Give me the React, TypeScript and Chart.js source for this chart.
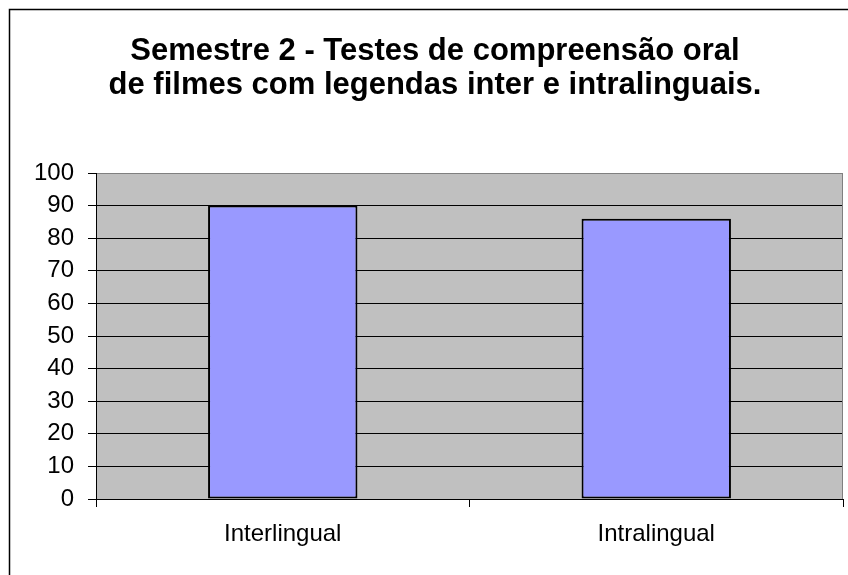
import React, { useEffect, useRef } from "react";
import { Chart, registerables } from "chart.js";

Chart.register(...registerables);

const titleLines = [
  "Semestre 2 - Testes de compreensão oral",
  "de filmes com legendas inter e intralinguais.",
];
const categories = ["Interlingual", "Intralingual"];
const scores = [90, 86];
const yMin = 0;
const yMax = 100;
const yStep = 10;

const W = 848;
const H = 575;

const framePlugin = {
  id: "frameAndPlot",
  beforeDraw(chart: any) {
    const { ctx, chartArea } = chart;
    ctx.save();
    ctx.fillStyle = "#ffffff";
    ctx.fillRect(0, 0, chart.width, chart.height);
    // outer chart frame (left and top edges visible)
    ctx.strokeStyle = "#000000";
    ctx.lineWidth = 1.5;
    ctx.beginPath();
    ctx.moveTo(9.5, chart.height);
    ctx.lineTo(9.5, 9.5);
    ctx.lineTo(chart.width, 9.5);
    ctx.stroke();
    // plot area background
    ctx.fillStyle = "#C0C0C0";
    ctx.fillRect(
      chartArea.left,
      chartArea.top,
      chartArea.right - chartArea.left,
      chartArea.bottom - chartArea.top
    );
    ctx.restore();
  },
  beforeDatasetsDraw(chart: any) {
    const { ctx, chartArea } = chart;
    ctx.save();
    ctx.strokeStyle = "#808080";
    ctx.lineWidth = 1;
    ctx.beginPath();
    ctx.moveTo(chartArea.right - 0.5, chartArea.top);
    ctx.lineTo(chartArea.right - 0.5, chartArea.bottom);
    ctx.stroke();
    ctx.restore();
  },
};

export default function App() {
  const ref = useRef<HTMLCanvasElement | null>(null);

  useEffect(() => {
    if (!ref.current) return;
    const chart = new Chart(ref.current, {
      type: "bar",
      data: {
        labels: categories,
        datasets: [
          {
            data: scores,
            backgroundColor: "#9999FF",
            borderColor: "#000000",
            borderWidth: 2,
            borderSkipped: false,
            categoryPercentage: 1,
            barPercentage: 0.4,
          },
        ],
      },
      options: {
        responsive: false,
        animation: false,
        devicePixelRatio: 1,
        layout: { padding: { left: 27, right: 5, top: 0, bottom: 0 } },
        plugins: {
          legend: { display: false },
          tooltip: { enabled: false },
          title: {
            display: true,
            text: titleLines,
            color: "#000000",
            font: { family: "'Liberation Sans', Arial, sans-serif", size: 31, weight: "bold", lineHeight: 1.097 },
            padding: { top: 34, bottom: 71 },
          },
        },
        scales: {
          x: {
            offset: true,
            afterFit(scale: any) {
              scale.height = 76;
            },
            grid: {
              offset: true,
              drawOnChartArea: false,
              drawTicks: true,
              tickLength: 8,
              color: "#000000",
              tickColor: "#000000",
            },
            border: { display: true, color: "#000000", width: 1 },
            ticks: {
              color: "#000000",
              padding: 13,
              font: { family: "'Liberation Sans', Arial, sans-serif", size: 24 },
            },
          },
          y: {
            min: yMin,
            max: yMax,
            afterFit(scale: any) {
              scale.width = 69;
            },
            grid: {
              drawTicks: true,
              tickLength: 8,
              color: (c: any) => (c.tick && c.tick.value === yMax ? "#808080" : "#000000"),
              tickColor: "#000000",
            },
            border: { display: true, color: "#000000", width: 1 },
            ticks: {
              stepSize: yStep,
              color: "#000000",
              padding: 14,
              font: { family: "'Liberation Sans', Arial, sans-serif", size: 24 },
            },
          },
        },
      },
      plugins: [framePlugin],
    });
    return () => chart.destroy();
  }, []);

  return (
    <div style={{ position: "fixed", left: 0, top: 0, width: W, height: H, background: "#fff" }}>
      <canvas ref={ref} width={W} height={H} style={{ width: W, height: H, display: "block" }} />
    </div>
  );
}
